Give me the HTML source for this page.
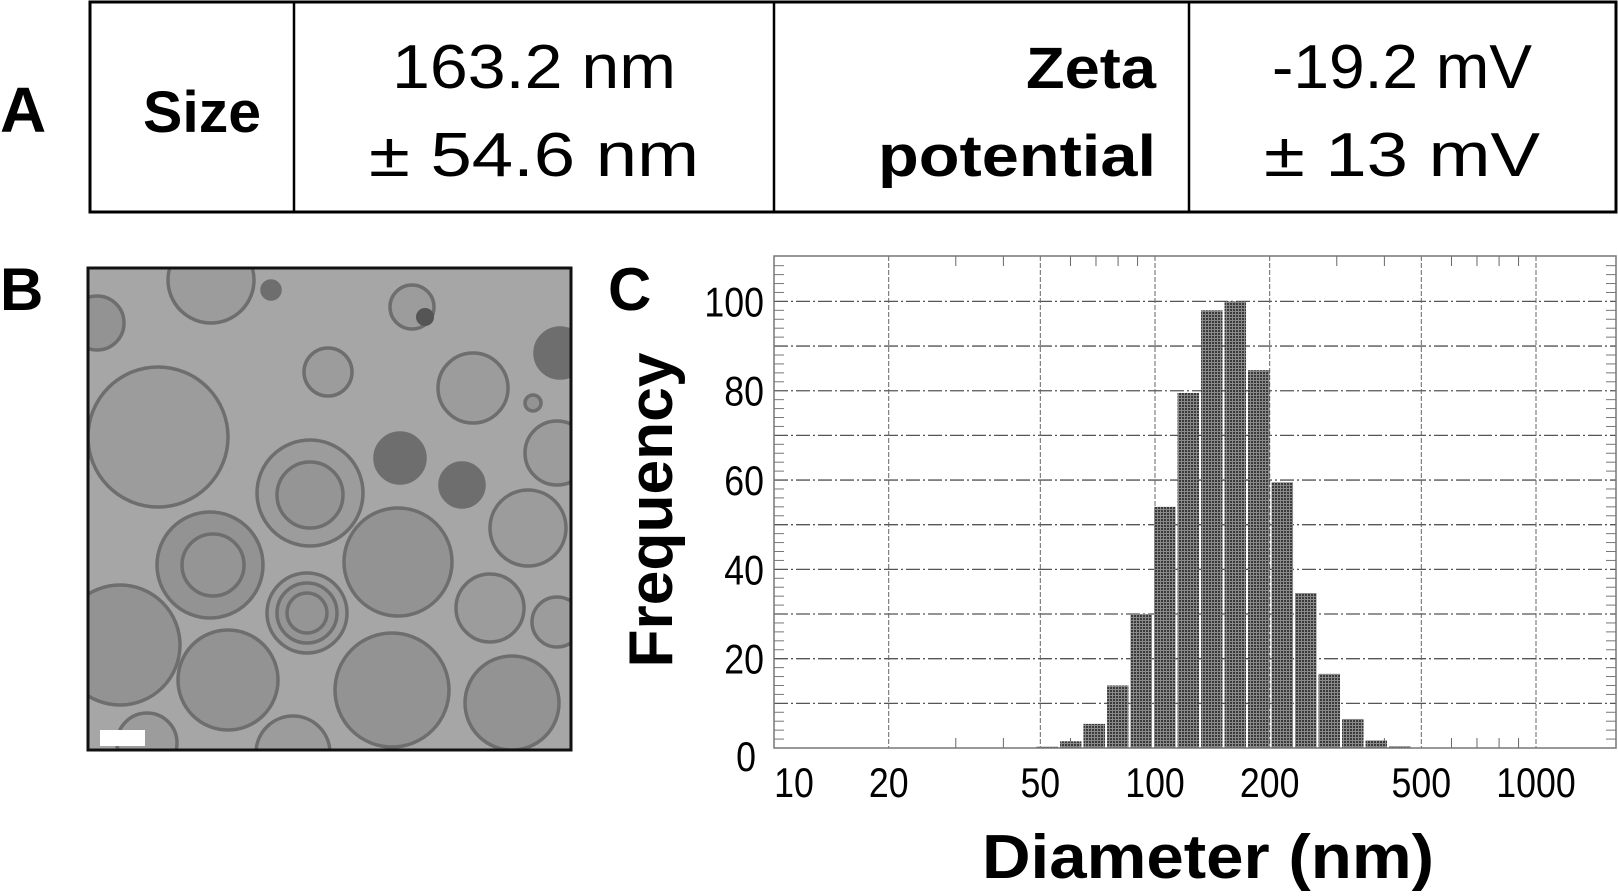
<!DOCTYPE html>
<html><head><meta charset="utf-8">
<style>
html,body{margin:0;padding:0;background:#fff;}
svg{display:block;font-family:"Liberation Sans",Arial,sans-serif;}
</style></head>
<body>
<svg id="fig" width="1618" height="896" viewBox="0 0 1618 896" xmlns="http://www.w3.org/2000/svg">
<defs>
<pattern id="dots" width="3" height="3" patternUnits="userSpaceOnUse">
<rect width="3" height="3" fill="#8a8a8a"/>
<rect width="2" height="2" fill="#3a3a3a"/>
</pattern>
<clipPath id="temclip"><rect x="88" y="268" width="483" height="482"/></clipPath>
</defs>

<!-- Panel A table -->
<g>
<text x="0" y="132" font-size="64" font-weight="bold">A</text>
<rect x="90" y="2" width="1526" height="210" fill="none" stroke="#000" stroke-width="3"/>
<line x1="294" y1="2" x2="294" y2="212" stroke="#000" stroke-width="2.5"/>
<line x1="774" y1="2" x2="774" y2="212" stroke="#000" stroke-width="2.5"/>
<line x1="1189" y1="2" x2="1189" y2="212" stroke="#000" stroke-width="2.5"/>
<text x="202" y="132" font-size="58" font-weight="bold" text-anchor="middle" textLength="118" lengthAdjust="spacingAndGlyphs">Size</text>
<text x="534" y="88" font-size="62" text-anchor="middle" textLength="284" lengthAdjust="spacingAndGlyphs">163.2 nm</text>
<text x="534" y="176" font-size="62" text-anchor="middle" textLength="330" lengthAdjust="spacingAndGlyphs">± 54.6 nm</text>
<text x="1156" y="88" font-size="58" font-weight="bold" text-anchor="end" textLength="130" lengthAdjust="spacingAndGlyphs">Zeta</text>
<text x="1156" y="176" font-size="58" font-weight="bold" text-anchor="end" textLength="278" lengthAdjust="spacingAndGlyphs">potential</text>
<text x="1402" y="88" font-size="62" text-anchor="middle" textLength="260" lengthAdjust="spacingAndGlyphs">-19.2 mV</text>
<text x="1402" y="176" font-size="62" text-anchor="middle" textLength="276" lengthAdjust="spacingAndGlyphs">± 13 mV</text>
</g>

<!-- Panel B TEM -->
<g>
<text x="0" y="310" font-size="60" font-weight="bold">B</text>
<g clip-path="url(#temclip)" id="tem">
<rect x="88" y="268" width="483" height="482" fill="#a6a6a6"/>
</g>
<rect x="88" y="268" width="483" height="482" fill="none" stroke="#111" stroke-width="3"/>
<rect x="100" y="730" width="45" height="16" fill="#fff"/>
</g>

<!-- Panel C chart -->
<g>
<text x="608" y="310" font-size="60" font-weight="bold">C</text>
<g id="chart"></g>
<text transform="translate(672,510) rotate(-90)" font-size="62" font-weight="bold" text-anchor="middle" textLength="315" lengthAdjust="spacingAndGlyphs">Frequency</text>
<text x="1208" y="878" font-size="62" font-weight="bold" text-anchor="middle" textLength="452" lengthAdjust="spacingAndGlyphs">Diameter (nm)</text>
</g>
</svg>
<script>
// ---- chart data ----
const binEdges = [48.5, 56.0, 64.5, 74.4, 85.7, 98.8, 113.9, 131.3, 151.3, 174.4, 201.0, 231.7, 267.0, 307.8, 354.8, 408.9, 471.3];
const frequencies = [0.3, 1.5, 5.4, 14, 30, 54, 79.5, 98, 100, 84.6, 59.5, 34.7, 16.6, 6.5, 1.7, 0.4];
const yTicks = [0, 20, 40, 60, 80, 100];
const xTicks = [10, 20, 50, 100, 200, 500, 1000];
const xMinor = [30, 40, 60, 70, 80, 90, 300, 400, 600, 700, 800, 900];

const NS = "http://www.w3.org/2000/svg";
const L = 774, R = 1616, T = 256, B = 748;
const DEC = 381;
function xs(v){ return L + (Math.log10(v) - 1) * DEC; }
function ys(v){ return B - v * 4.466; }
function mk(tag, attrs, parent){
  const e = document.createElementNS(NS, tag);
  for (const k in attrs) e.setAttribute(k, attrs[k]);
  parent.appendChild(e); return e;
}
const chart = document.getElementById('chart');

for (let v = 10; v <= 100; v += 10) {
  const g = mk('line', {x1:L, x2:R, y1:ys(v), y2:ys(v), stroke:'#555', 'stroke-width':1.3, 'stroke-dasharray':'14 3 2 3'}, chart);
  
  
}
xTicks.slice(1).forEach(v => {
  const g = mk('line', {x1:xs(v), x2:xs(v), y1:T, y2:B, stroke:'#666', 'stroke-width':1, 'stroke-dasharray':'5 2'}, chart);
  
  
});
for (let v = 2; v < 110; v += 2) {
  if (v % 10 === 0) continue;
  mk('line', {x1:L, x2:L+10, y1:ys(v), y2:ys(v), stroke:'#777', 'stroke-width':1}, chart);
  mk('line', {x1:R-10, x2:R, y1:ys(v), y2:ys(v), stroke:'#777', 'stroke-width':1}, chart);
}
xMinor.forEach(v => {
  mk('line', {x1:xs(v), x2:xs(v), y1:T, y2:T+10, stroke:'#666', 'stroke-width':1}, chart);
  mk('line', {x1:xs(v), x2:xs(v), y1:B-10, y2:B, stroke:'#666', 'stroke-width':1}, chart);
});
frequencies.forEach((f, i) => {
  const x0 = xs(binEdges[i]) + 1, x1 = xs(binEdges[i+1]) - 1;
  const b = mk('rect', {x:x0, y:ys(f), width:x1-x0, height:B-ys(f), fill:'url(#dots)'}, chart);
  
  
});
const fr = mk('rect', {x:L, y:T, width:R-L, height:B-T, fill:'none', stroke:'#777', 'stroke-width':1.5}, chart);


// y tick labels (narrow, tall)
yTicks.forEach(v => {
  const yy = ys(v) + 15 + (v===0 ? 8 : 0);
  const t = mk('text', {x:0, y:0, 'font-size':42, 'text-anchor':'end', transform:'translate(' + (v===0?756:764) + ',' + yy + ') scale(0.85,1)'}, chart);
  t.textContent = v;
  
  
});
// x tick labels
xTicks.forEach(v => {
  const xx = xs(v) + (v===10 ? 20 : 0);
  const t = mk('text', {x:0, y:0, 'font-size':42, 'text-anchor':'middle', transform:'translate(' + xx + ',797) scale(0.85,1)'}, chart);
  t.textContent = v;
  
  
});

// ---- TEM image circles ----
const temCircles = [
 [211,280,43,0],[97,323,27,1],[271,290,9,2],[412,307,22,0],[328,372,24,0],[473,388,35,0],
 [560,353,25,2],[533,403,8,1],[158,437,70,0],[557,453,32,0],[400,458,25,2],[462,485,22,2],
 [310,493,53,0],[528,528,38,0],[210,565,53,1],[398,562,54,1],[307,613,40,0],[490,608,34,0],
 [557,622,25,0],[120,645,60,1],[228,680,50,1],[392,690,57,1],[512,703,47,1],[147,743,30,0],[293,753,37,0]
];
const inner = [[310,495,33],[213,565,31],[307,613,30],[307,613,20]];
const tem = document.getElementById('tem');
temCircles.forEach(c => {
  const fill = c[3]===2 ? '#6e6e6e' : (c[3]===1 ? '#939393' : '#9c9c9c');
  const e = mk('circle', {cx:c[0], cy:c[1], r:c[2], fill:fill, stroke:'#6e6e6e', 'stroke-width':3.5}, tem);
  
  
});
inner.forEach(c => {
  mk('circle', {cx:c[0], cy:c[1], r:c[2], fill:'#959595', stroke:'#6e6e6e', 'stroke-width':3.5}, tem);
});
mk('circle', {cx:425, cy:317, r:9, fill:'#555'}, tem);
</script>
</body></html>
